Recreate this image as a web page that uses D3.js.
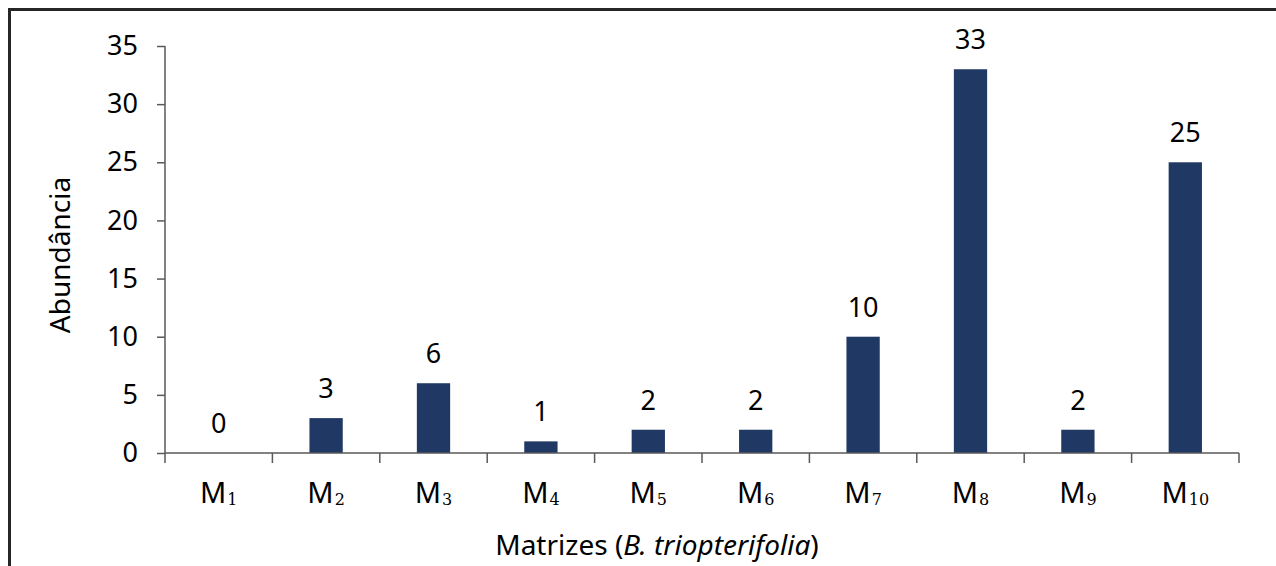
<!DOCTYPE html>
<html>
<head>
<meta charset="utf-8">
<script src="https://cdn.jsdelivr.net/npm/d3@7"></script>
<style>
  html, body { margin: 0; padding: 0; background: #fff; }
  svg text { font-family: "Noto Sans", "Open Sans", sans-serif; fill: #000; }
</style>
</head>
<body>
<svg id="chart" width="1276" height="566"></svg>
<script>
// Abundance per mother plant (matriz)
const categories = ["1", "2", "3", "4", "5", "6", "7", "8", "9", "10"];
const abundance = [0, 3, 6, 1, 2, 2, 10, 33, 2, 25];
const yTicks = [0, 5, 10, 15, 20, 25, 30, 35];

const svg = d3.select("#chart");
const W = 1276, H = 566;
const plot = { left: 165, right: 1239, top: 46, bottom: 453 };
const fs = 27;

// outer frame (open on right and bottom edges of the canvas)
svg.append("rect")
  .attr("x", 9.5).attr("y", 9.5)
  .attr("width", W + 20).attr("height", H + 20)
  .attr("fill", "none").attr("stroke", "#262626").attr("stroke-width", 3);

const x = d3.scaleBand()
  .domain(categories)
  .range([plot.left, plot.right])
  .paddingInner(0.69).paddingOuter(0.345);

const xGroups = d3.scaleBand()
  .domain(categories)
  .range([plot.left, plot.right]);

const y = d3.scaleLinear().domain([0, 35]).range([plot.bottom, plot.top]);

const axisColor = "#595959";

// bars
svg.append("g").selectAll("rect")
  .data(abundance)
  .join("rect")
  .attr("x", (d, i) => x(categories[i]))
  .attr("width", x.bandwidth())
  .attr("y", d => y(d))
  .attr("height", d => y(0) - y(d))
  .attr("fill", "#203864");

// value labels
svg.append("g").selectAll("text")
  .data(abundance)
  .join("text")
  .attr("x", (d, i) => x(categories[i]) + x.bandwidth() / 2)
  .attr("y", d => y(d) - 20)
  .attr("text-anchor", "middle")
  .attr("font-size", fs)
  .text(d => d);

// y axis
const yAxis = svg.append("g")
  .attr("transform", `translate(${plot.left},0)`)
  .call(d3.axisLeft(y).tickValues(yTicks).tickSize(8).tickPadding(19));
yAxis.selectAll("path, line").attr("stroke", axisColor).attr("stroke-width", 1.5);
yAxis.selectAll("text").attr("font-size", fs).attr("font-family", "Noto Sans").attr("fill", "#000");
yAxis.select(".domain").attr("d", `M0,${plot.top}V${plot.bottom}`);

// x axis: baseline and ticks at category boundaries
const xAxis = svg.append("g");
xAxis.append("line")
  .attr("x1", plot.left).attr("x2", plot.right)
  .attr("y1", plot.bottom).attr("y2", plot.bottom)
  .attr("stroke", axisColor).attr("stroke-width", 1.5);
const boundaries = categories.map(c => xGroups(c)).concat([plot.right]);
xAxis.selectAll("line.tick")
  .data(boundaries)
  .join("line")
  .attr("class", "tick")
  .attr("x1", d => d).attr("x2", d => d)
  .attr("y1", plot.bottom).attr("y2", plot.bottom + 10)
  .attr("stroke", axisColor).attr("stroke-width", 1.5);

// category labels M with subscript index
const catLabels = xAxis.selectAll("text.cat")
  .data(categories)
  .join("text")
  .attr("class", "cat")
  .attr("x", d => xGroups(d) + xGroups.bandwidth() / 2)
  .attr("y", 503)
  .attr("text-anchor", "middle");
catLabels.append("tspan").attr("font-size", 29).text("M");
catLabels.append("tspan")
  .attr("font-size", 16)
  .attr("font-family", "DejaVu Serif")
  .attr("dx", 1)
  .attr("dy", 2)
  .text(d => d);

// axis titles
svg.append("text")
  .attr("transform", "translate(70,255) rotate(-90)")
  .attr("text-anchor", "middle")
  .attr("font-size", 28)
  .text("Abundância");

const xt = svg.append("text")
  .attr("x", 657).attr("y", 555)
  .attr("text-anchor", "middle")
  .attr("font-size", 28);
xt.append("tspan").text("Matrizes (");
xt.append("tspan").attr("font-style", "italic").text("B. triopterifolia");
xt.append("tspan").text(")");
</script>
</body>
</html>
